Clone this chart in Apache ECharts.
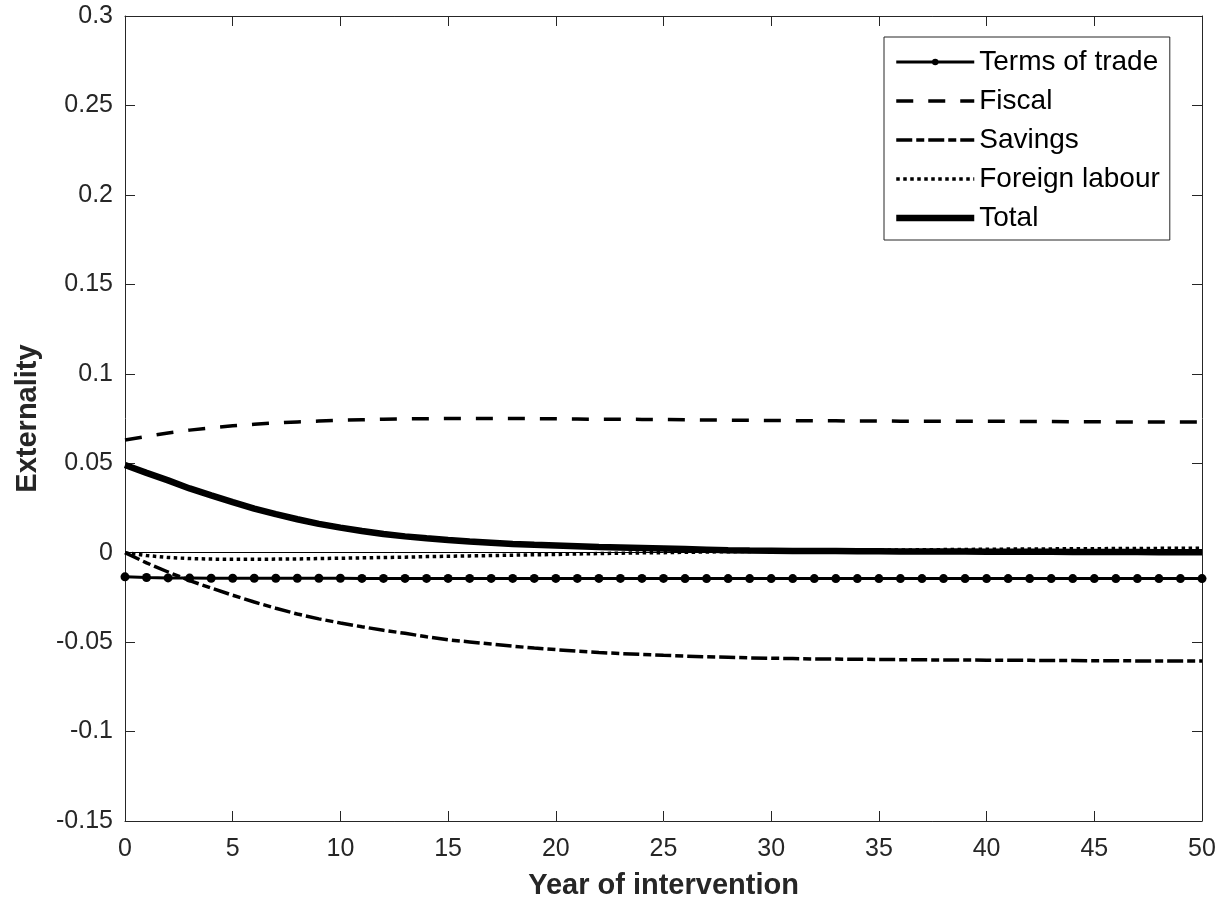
<!DOCTYPE html>
<html>
<head>
<meta charset="utf-8">
<script src="https://cdn.jsdelivr.net/npm/echarts@6/dist/echarts.min.js"></script>
<style>
  html, body { margin: 0; padding: 0; background: #fff; }
  #main { width: 1224px; height: 906px; }
</style>
</head>
<body>
<div id="main"></div>
<script>
// years 0..50
var years = [];
for (var i = 0; i <= 50; i++) { years.push(i); }

var termsOfTrade = [
  -0.0135, -0.0139, -0.0141, -0.0142, -0.0143, -0.0143, -0.0143, -0.0143, -0.0143, -0.0143,
  -0.0143, -0.0144, -0.0144, -0.0144, -0.0144, -0.0144, -0.0144, -0.0144, -0.0144, -0.0144,
  -0.0144, -0.0144, -0.0144, -0.0144, -0.0144, -0.0144, -0.0145, -0.0145, -0.0145, -0.0145,
  -0.0145, -0.0145, -0.0145, -0.0145, -0.0145, -0.0145, -0.0145, -0.0145, -0.0145, -0.0145,
  -0.0145, -0.0145, -0.0145, -0.0145, -0.0145, -0.0145, -0.0145, -0.0145, -0.0145, -0.0145,
  -0.0145
];
var fiscal = [
  0.0630, 0.0650, 0.0669, 0.0685, 0.0697, 0.0709, 0.0718, 0.0725, 0.0731, 0.0736,
  0.0740, 0.0743, 0.0746, 0.0748, 0.0749, 0.0750, 0.0750, 0.0750, 0.0750, 0.0749,
  0.0748, 0.0747, 0.0746, 0.0746, 0.0745, 0.0744, 0.0743, 0.0742, 0.0741, 0.0740,
  0.0739, 0.0738, 0.0737, 0.0737, 0.0736, 0.0736, 0.0735, 0.0735, 0.0735, 0.0734,
  0.0734, 0.0734, 0.0733, 0.0733, 0.0732, 0.0732, 0.0731, 0.0731, 0.0731, 0.0730,
  0.0730
];
var savings = [
  0, -0.0057, -0.0108, -0.0156, -0.0198, -0.0238, -0.0276, -0.0311, -0.0343, -0.0370,
  -0.0393, -0.0414, -0.0434, -0.0451, -0.0470, -0.0487, -0.0499, -0.0511, -0.0523, -0.0533,
  -0.0542, -0.0551, -0.0558, -0.0564, -0.0569, -0.0574, -0.0578, -0.0582, -0.0585, -0.0588,
  -0.0590, -0.0592, -0.0594, -0.0595, -0.0596, -0.0597, -0.0598, -0.0599, -0.0600, -0.0600,
  -0.0601, -0.0602, -0.0602, -0.0603, -0.0603, -0.0604, -0.0604, -0.0605, -0.0605, -0.0606,
  -0.0606
];
var foreignLabour = [
  0, -0.0016, -0.0027, -0.0033, -0.0036, -0.0037, -0.0037, -0.0036, -0.0035, -0.0033,
  -0.0031, -0.0029, -0.0027, -0.0025, -0.0022, -0.0020, -0.0018, -0.0016, -0.0014, -0.0012,
  -0.0010, -0.0007, -0.0005, -0.0003, -0.0001, 0.0000, 0.0002, 0.0004, 0.0005, 0.0007,
  0.0008, 0.0009, 0.0011, 0.0012, 0.0013, 0.0014, 0.0015, 0.0016, 0.0017, 0.0018,
  0.0019, 0.0020, 0.0020, 0.0021, 0.0022, 0.0022, 0.0023, 0.0023, 0.0024, 0.0024,
  0.0025
];
var total = [
  0.0490, 0.0446, 0.0404, 0.0359, 0.0320, 0.0282, 0.0246, 0.0215, 0.0187, 0.0161,
  0.0140, 0.0121, 0.0104, 0.0091, 0.0080, 0.0071, 0.0063, 0.0056, 0.0049, 0.0044,
  0.0040, 0.0036, 0.0032, 0.0029, 0.0026, 0.0023, 0.0020, 0.0017, 0.0014, 0.0012,
  0.0011, 0.0010, 0.0009, 0.0009, 0.0008, 0.0008, 0.0007, 0.0007, 0.0006, 0.0006,
  0.0005, 0.0005, 0.0005, 0.0005, 0.0004, 0.0004, 0.0004, 0.0004, 0.0003, 0.0003,
  0.0003
];

function pairs(arr) {
  return years.map(function (y, k) { return [y, arr[k]]; });
}

var textColor = '#262626';
var fontName = 'Liberation Sans';

var myChart = echarts.init(document.getElementById('main'));
var axisCommon = {
  axisLine: { show: true, onZero: false, lineStyle: { color: textColor, width: 1 } },
  axisTick: { show: true, inside: true, length: 10, lineStyle: { color: textColor } },
  splitLine: { show: false }
};

// legend icons: hide the marker for plain lines
var noMark = { opacity: 0 };

var option = {
  animation: false,
  backgroundColor: '#fff',
  grid: { left: 125, right: 22, top: 16, bottom: 85, containLabel: false },
  legend: {
    orient: 'vertical',
    left: 884,
    top: 37,
    itemWidth: 78,
    itemHeight: 8,
    itemGap: 11,
    padding: [11, 10, 8, 9],
    borderColor: textColor,
    borderWidth: 1,
    backgroundColor: '#fff',
    textStyle: { color: '#000', fontFamily: fontName, fontSize: 28, lineHeight: 27 },
    data: [
      { name: 'Terms of trade', lineStyle: { width: 3 } },
      { name: 'Fiscal', itemStyle: noMark, lineStyle: { width: 3.5 } },
      { name: 'Savings', itemStyle: noMark, lineStyle: { width: 3.5 } },
      { name: 'Foreign labour', itemStyle: noMark, lineStyle: { width: 3.5 } },
      { name: 'Total', itemStyle: noMark, lineStyle: { width: 6.5 } }
    ]
  }
};

option.xAxis = [
  Object.assign({
    type: 'value', min: 0, max: 50, interval: 5, position: 'bottom',
    name: 'Year of intervention', nameLocation: 'middle', nameGap: 50,
    nameTextStyle: { color: textColor, fontFamily: fontName, fontSize: 29, fontWeight: 'bold' },
    axisLabel: { color: textColor, fontFamily: fontName, fontSize: 25, margin: 16 }
  }, axisCommon),
  Object.assign({
    type: 'value', min: 0, max: 50, interval: 5, position: 'top',
    axisLabel: { show: false }
  }, axisCommon)
];
option.yAxis = [
  Object.assign({
    type: 'value', min: -0.15, max: 0.3, interval: 0.05, position: 'left',
    name: 'Externality', nameLocation: 'middle', nameGap: 83, nameRotate: 90,
    nameTextStyle: { color: textColor, fontFamily: fontName, fontSize: 29, fontWeight: 'bold' },
    axisLabel: { color: textColor, fontFamily: fontName, fontSize: 25, margin: 12 }
  }, axisCommon),
  Object.assign({
    type: 'value', min: -0.15, max: 0.3, interval: 0.05, position: 'right',
    axisLabel: { show: false }
  }, axisCommon)
];

option.series = [
  {
    name: 'Terms of trade', type: 'line', data: pairs(termsOfTrade),
    symbol: 'circle', symbolSize: 9, showSymbol: true,
    lineStyle: { color: '#000', width: 3 },
    itemStyle: { color: '#000' },
    z: 3,
    markLine: {
      silent: true, symbol: 'none', label: { show: false },
      lineStyle: { color: '#000', width: 1, type: 'solid' },
      data: [{ yAxis: 0 }]
    }
  },
  {
    name: 'Fiscal', type: 'line', data: pairs(fiscal), symbol: 'none',
    lineStyle: { color: '#000', width: 3.5, type: [17, 15] },
    itemStyle: { color: '#000' }
  },
  {
    name: 'Savings', type: 'line', data: pairs(savings), symbol: 'none',
    lineStyle: { color: '#000', width: 3.5, type: [16, 4, 8, 4] },
    itemStyle: { color: '#000' }
  },
  {
    name: 'Foreign labour', type: 'line', data: pairs(foreignLabour), symbol: 'none',
    lineStyle: { color: '#000', width: 3.5, type: [3.5, 3.5] },
    itemStyle: { color: '#000' }
  },
  {
    name: 'Total', type: 'line', data: pairs(total), symbol: 'none',
    lineStyle: { color: '#000', width: 6.5 },
    itemStyle: { color: '#000' }
  }
];

myChart.setOption(option);
</script>
</body>
</html>
